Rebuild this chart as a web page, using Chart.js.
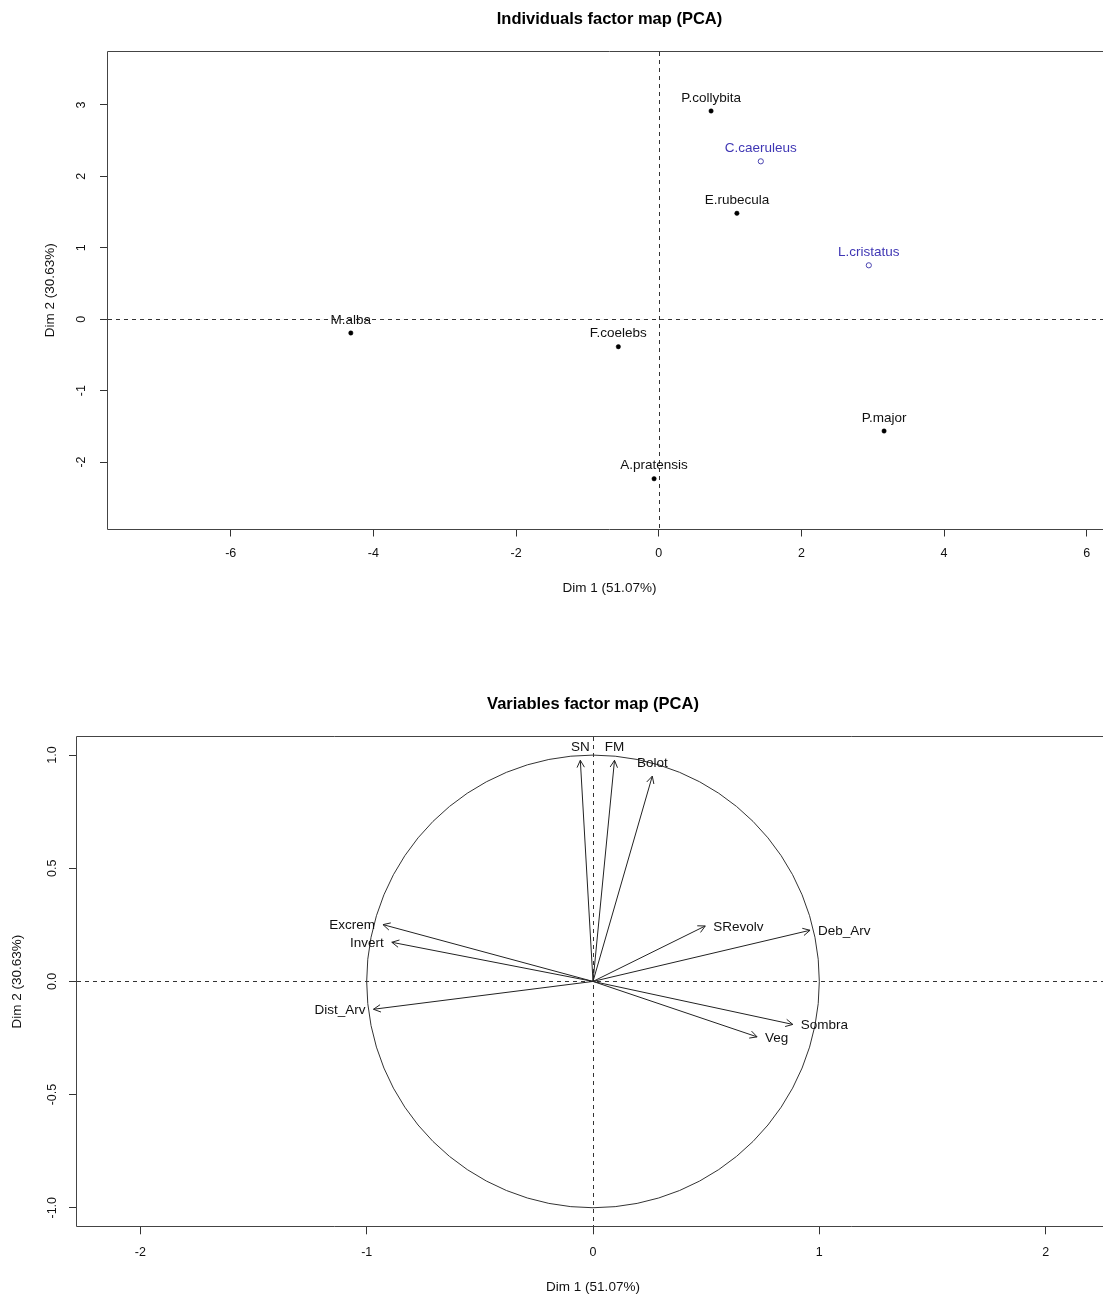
<!DOCTYPE html>
<html><head><meta charset="utf-8">
<script src="https://cdn.jsdelivr.net/npm/chart.js@4.4.0/dist/chart.umd.min.js"></script>
<style>
html,body{margin:0;padding:0;background:#fff;}
#wrap{position:relative;width:1103px;height:1297px;overflow:hidden;}
canvas{position:absolute;left:0;display:block;}
#c1{top:0}
#c2{top:640px}
</style></head><body>
<div id="wrap">
<canvas id="c1" width="1116" height="640"></canvas>
<canvas id="c2" width="1109" height="657"></canvas>
</div>
<script>
// ---------- Individuals factor map ----------
const IND_NAMES = ['P.collybita', 'E.rubecula', 'M.alba', 'F.coelebs', 'P.major', 'A.pratensis'];
const IND_DIM1  = [0.734, 1.096, -4.316, -0.566, 3.159, -0.065];
const IND_DIM2  = [2.916, 1.483, -0.193, -0.385, -1.566, -2.234];
const SUP_NAMES = ['C.caeruleus', 'L.cristatus'];
const SUP_DIM1  = [1.431, 2.945];
const SUP_DIM2  = [2.211, 0.755];
const IND_X_TICKS = [-6, -4, -2, 0, 2, 4, 6];
const IND_Y_TICKS = [-2, -1, 0, 1, 2, 3];
const IND_X_RANGE = [-7.72, 6.34];
const IND_Y_RANGE = [-2.931, 3.742];

// ---------- Variables factor map ----------
const VAR_NAMES = ['SN', 'FM', 'Bolot', 'SRevolv', 'Deb_Arv', 'Excrem', 'Invert', 'Dist_Arv', 'Sombra', 'Veg'];
const VAR_DIM1  = [-0.056, 0.095, 0.262, 0.496, 0.959, -0.928, -0.889, -0.970, 0.883, 0.725];
const VAR_DIM2  = [0.977, 0.977, 0.907, 0.245, 0.226, 0.251, 0.173, -0.123, -0.190, -0.245];
const VAR_LABEL_SIDE = ['top', 'top', 'top', 'right', 'right', 'left', 'left', 'left', 'right', 'right'];
const VAR_X_TICKS = [-2, -1, 0, 1, 2];
const VAR_Y_TICKS = [-1, -0.5, 0, 0.5, 1];
const VAR_X_RANGE = [-2.28, 2.28];
const VAR_Y_RANGE = [-1.082, 1.080];

const FONT = "'Liberation Sans', Arial, Helvetica, sans-serif";
Chart.defaults.font.family = FONT;
Chart.defaults.color = '#111';

const frame = {
  id: 'frame',
  beforeDatasetsDraw(chart, args, opts) {
    const {ctx, chartArea: a, scales: {x, y}} = chart;
    ctx.save();
    ctx.lineWidth = 1;
    ctx.strokeStyle = '#333';
    ctx.setLineDash([4, 4]);
    const px = Math.round(x.getPixelForValue(0)) + 0.5;
    const py = Math.round(y.getPixelForValue(0)) + 0.5;
    ctx.beginPath();
    ctx.moveTo(a.left, py); ctx.lineTo(a.right, py);
    ctx.moveTo(px, a.top); ctx.lineTo(px, a.bottom);
    ctx.stroke();
    ctx.setLineDash([]);
    if (opts.circle) {
      const cx = x.getPixelForValue(0), cy = y.getPixelForValue(0);
      const rx = x.getPixelForValue(1) - cx, ry = cy - y.getPixelForValue(1);
      ctx.strokeStyle = '#333';
      ctx.beginPath();
      ctx.ellipse(cx, cy, rx, ry, 0, 0, Math.PI * 2);
      ctx.stroke();
    }
    ctx.strokeStyle = '#444';
    const l = Math.round(a.left) - 0.5, t = Math.round(a.top) - 0.5;
    const b = Math.round(a.bottom) + 0.5, r = Math.round(a.right) + 0.5;
    ctx.beginPath();
    ctx.moveTo(r, t); ctx.lineTo(l, t); ctx.lineTo(l, b); ctx.lineTo(r, b);
    ctx.stroke();
    ctx.restore();
  }
};

const pointLabels = {
  id: 'pointLabels',
  afterDatasetsDraw(chart) {
    const ctx = chart.ctx;
    ctx.save();
    ctx.font = '13.5px ' + FONT;
    ctx.textAlign = 'center';
    ctx.textBaseline = 'middle';
    chart.data.datasets.forEach((ds, di) => {
      const meta = chart.getDatasetMeta(di);
      ctx.fillStyle = ds.textColor;
      meta.data.forEach((pt, i) => {
        ctx.fillText(ds.names[i], pt.x, pt.y - 13);
      });
    });
    ctx.restore();
  }
};

const arrows = {
  id: 'arrows',
  afterDatasetsDraw(chart) {
    const ctx = chart.ctx;
    ctx.save();
    ctx.strokeStyle = '#222';
    ctx.fillStyle = '#111';
    ctx.lineWidth = 1;
    ctx.font = '13.5px ' + FONT;
    chart.data.datasets.forEach((ds, di) => {
      const meta = chart.getDatasetMeta(di);
      const p0 = meta.data[0], p1 = meta.data[1];
      const ang = Math.atan2(p1.y - p0.y, p1.x - p0.x);
      const len = 8, spread = 0.48;
      ctx.beginPath();
      ctx.moveTo(p1.x - len * Math.cos(ang - spread), p1.y - len * Math.sin(ang - spread));
      ctx.lineTo(p1.x, p1.y);
      ctx.lineTo(p1.x - len * Math.cos(ang + spread), p1.y - len * Math.sin(ang + spread));
      ctx.stroke();
      ctx.textBaseline = 'middle';
      if (ds.side === 'top') {
        ctx.textAlign = 'center';
        ctx.fillText(ds.label, p1.x, p1.y - 13);
      } else if (ds.side === 'right') {
        ctx.textAlign = 'left';
        ctx.fillText(ds.label, p1.x + 8, p1.y + 1);
      } else {
        ctx.textAlign = 'right';
        ctx.fillText(ds.label, p1.x - 8, p1.y + 1);
      }
    });
    ctx.restore();
  }
};

function axisCfg(range, tickVals, fmt, opts) {
  return {
    type: 'linear',
    min: range[0], max: range[1],
    afterBuildTicks: s => { s.ticks = tickVals.map(v => ({value: v})); },
    afterFit: opts.fit,
    grid: {display: true, drawOnChartArea: false, drawTicks: true, tickLength: 8, tickColor: '#333', tickWidth: 1},
    border: {display: false},
    ticks: Object.assign({font: {size: 12.5}, color: '#111', autoSkip: false, callback: v => fmt(v)}, opts.ticks),
    title: {display: true, text: opts.title, font: {size: 13.5}, color: '#111', padding: opts.titlePad}
  };
}

// the plot region of the original runs a few pixels past the right edge of the picture;
// the canvases are slightly wider than the window and clipped by #wrap
new Chart(document.getElementById('c1'), {
  type: 'scatter',
  data: {
    datasets: [
      {
        data: IND_DIM1.map((v, i) => ({x: v, y: IND_DIM2[i]})),
        names: IND_NAMES, textColor: '#111',
        pointRadius: 2.2, pointBackgroundColor: '#000', pointBorderColor: '#000', pointBorderWidth: 0.5
      },
      {
        data: SUP_DIM1.map((v, i) => ({x: v, y: SUP_DIM2[i]})),
        names: SUP_NAMES, textColor: '#3f36b4',
        pointRadius: 2.6, pointBackgroundColor: 'rgba(0,0,0,0)', pointBorderColor: '#4a44b0', pointBorderWidth: 1
      }
    ]
  },
  options: {
    responsive: false, animation: false, events: [],
    layout: {padding: 0},
    plugins: {
      legend: {display: false}, tooltip: {enabled: false},
      title: {display: true, text: 'Individuals factor map (PCA)', fullSize: false, color: '#000',
              font: {size: 16.5, weight: 'bold'}, padding: {top: 9.1, bottom: 23.1}},
      frame: {circle: false}
    },
    scales: {
      x: axisCfg(IND_X_RANGE, IND_X_TICKS, v => String(v), {
        fit: s => { s.height = 111.5; },
        ticks: {padding: 10, minRotation: 0, maxRotation: 0},
        title: 'Dim 1 (51.07%)', titlePad: {top: 0, bottom: 43.9}
      }),
      y: axisCfg(IND_Y_RANGE, IND_Y_TICKS, v => String(v), {
        fit: s => { s.width = 108; },
        ticks: {padding: 13, minRotation: 90, maxRotation: 90, crossAlign: 'center'},
        title: 'Dim 2 (30.63%)', titlePad: {top: 42.4, bottom: 0}
      })
    }
  },
  plugins: [frame, pointLabels]
});

new Chart(document.getElementById('c2'), {
  type: 'scatter',
  data: {
    datasets: VAR_NAMES.map((n, i) => ({
      label: n, side: VAR_LABEL_SIDE[i],
      data: [{x: 0, y: 0}, {x: VAR_DIM1[i], y: VAR_DIM2[i]}],
      showLine: true, pointRadius: 0, borderColor: '#222', borderWidth: 1
    }))
  },
  options: {
    responsive: false, animation: false, events: [],
    layout: {padding: 0},
    plugins: {
      legend: {display: false}, tooltip: {enabled: false},
      title: {display: true, text: 'Variables factor map (PCA)', fullSize: false, color: '#000',
              font: {size: 16.5, weight: 'bold'}, padding: {top: 54.1, bottom: 23.1}},
      frame: {circle: true}
    },
    scales: {
      x: axisCfg(VAR_X_RANGE, VAR_X_TICKS, v => String(v), {
        fit: s => { s.height = 70.7; },
        ticks: {padding: 10.9, minRotation: 0, maxRotation: 0},
        title: 'Dim 1 (51.07%)', titlePad: {top: 0, bottom: 1.4}
      }),
      y: axisCfg(VAR_Y_RANGE, VAR_Y_TICKS, v => v.toFixed(1), {
        fit: s => { s.width = 77; },
        ticks: {padding: 5.6, minRotation: 90, maxRotation: 90, crossAlign: 'center'},
        title: 'Dim 2 (30.63%)', titlePad: {top: 8.9, bottom: 0}
      })
    }
  },
  plugins: [frame, arrows]
});
</script>
</body></html>
